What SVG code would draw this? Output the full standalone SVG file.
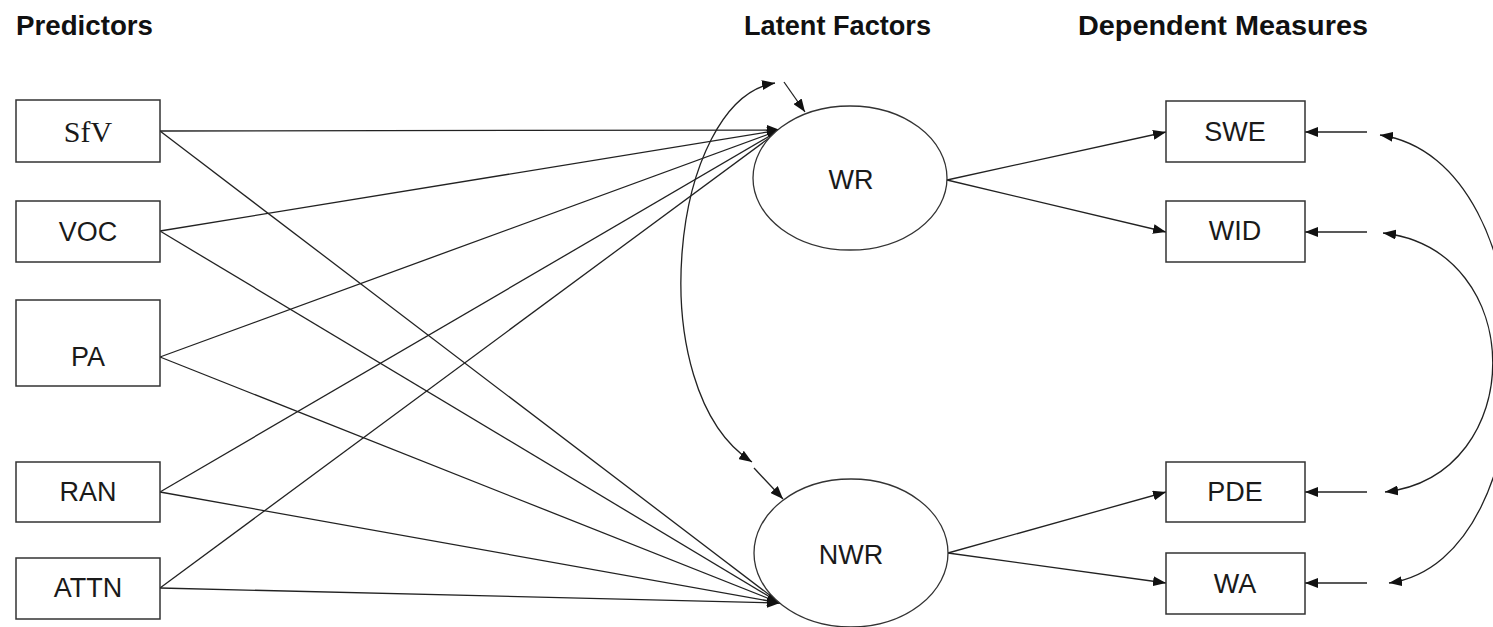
<svg xmlns="http://www.w3.org/2000/svg" width="1493" height="627" viewBox="0 0 1493 627">
<style>
.box{fill:#fff;stroke:#333;stroke-width:1.5}
.ell{fill:#fff;stroke:#333;stroke-width:1.3}
.lbl{font-family:"Liberation Sans",Arial,sans-serif;font-size:27px;fill:#1a1a1a;text-anchor:middle}
.ser{font-family:"Liberation Serif","Times New Roman",serif;font-size:30px;fill:#1a1a1a;text-anchor:middle}
.ttl{font-family:"Liberation Sans",Arial,sans-serif;font-size:27px;font-weight:bold;fill:#111}
.con{fill:none;stroke:#222;stroke-width:1.3}
</style>
<defs>
<marker id="ah" viewBox="0 0 13 10" refX="13" refY="5" markerWidth="13" markerHeight="10" markerUnits="userSpaceOnUse" orient="auto-start-reverse">
<path d="M0,0 L13,5 L0,10 z" fill="#111"/>
</marker>
</defs>
<rect width="1493" height="627" fill="#fff"/>
<g id="titles">
<text class="ttl" x="16" y="35" textLength="137" lengthAdjust="spacingAndGlyphs">Predictors</text>
<text class="ttl" x="744" y="35" textLength="187" lengthAdjust="spacingAndGlyphs">Latent Factors</text>
<text class="ttl" x="1078" y="35" textLength="290" lengthAdjust="spacingAndGlyphs">Dependent Measures</text>
</g>
<g id="connectors">
<line class="con" x1="160" y1="131" x2="780" y2="130" marker-end="url(#ah)"/>
<line class="con" x1="160" y1="231" x2="780" y2="130" marker-end="url(#ah)"/>
<line class="con" x1="160" y1="357" x2="780" y2="130" marker-end="url(#ah)"/>
<line class="con" x1="160" y1="492" x2="780" y2="130" marker-end="url(#ah)"/>
<line class="con" x1="160" y1="588" x2="780" y2="130" marker-end="url(#ah)"/>
<line class="con" x1="160" y1="131" x2="780" y2="603" marker-end="url(#ah)"/>
<line class="con" x1="160" y1="231" x2="780" y2="603" marker-end="url(#ah)"/>
<line class="con" x1="160" y1="357" x2="780" y2="603" marker-end="url(#ah)"/>
<line class="con" x1="160" y1="492" x2="780" y2="603" marker-end="url(#ah)"/>
<line class="con" x1="160" y1="588" x2="780" y2="603" marker-end="url(#ah)"/>
<line class="con" x1="947" y1="180" x2="1166" y2="132" marker-end="url(#ah)"/>
<line class="con" x1="947" y1="180" x2="1166" y2="232" marker-end="url(#ah)"/>
<line class="con" x1="948" y1="553" x2="1166" y2="492" marker-end="url(#ah)"/>
<line class="con" x1="948" y1="553" x2="1166" y2="583" marker-end="url(#ah)"/>
<line class="con" x1="1367" y1="132" x2="1305" y2="132" marker-end="url(#ah)"/>
<line class="con" x1="1367" y1="232" x2="1305" y2="232" marker-end="url(#ah)"/>
<line class="con" x1="1367" y1="492" x2="1305" y2="492" marker-end="url(#ah)"/>
<line class="con" x1="1367" y1="583" x2="1305" y2="583" marker-end="url(#ah)"/>
<line class="con" x1="784" y1="82" x2="805" y2="112" marker-end="url(#ah)"/>
<line class="con" x1="754" y1="468" x2="783" y2="499" marker-end="url(#ah)"/>
<path class="con" d="M775,83 C670,100 640,390 752,462" marker-start="url(#ah)" marker-end="url(#ah)"/>
<path class="con" d="M1383,233 C1529,250 1529,475 1385,492" marker-start="url(#ah)" marker-end="url(#ah)"/>
<path class="con" d="M1380,135 C1553,160 1553,560 1389,583" marker-start="url(#ah)" marker-end="url(#ah)"/>
</g>
<g id="SfV"><rect class="box" x="16" y="100" width="144" height="62"/><text class="ser" x="88" y="142">SfV</text></g>
<g id="VOC"><rect class="box" x="16" y="201" width="144" height="61"/><text class="lbl" x="88" y="241">VOC</text></g>
<g id="PA"><rect class="box" x="16" y="300" width="144" height="86"/><text class="lbl" x="88" y="366">PA</text></g>
<g id="RAN"><rect class="box" x="16" y="462" width="144" height="60"/><text class="lbl" x="88" y="501">RAN</text></g>
<g id="ATTN"><rect class="box" x="16" y="558" width="144" height="61"/><text class="lbl" x="88" y="597">ATTN</text></g>
<g id="WR"><ellipse class="ell" cx="850" cy="178" rx="97" ry="72"/><text class="lbl" x="851" y="189">WR</text></g>
<g id="NWR"><ellipse class="ell" cx="851" cy="553" rx="97" ry="74"/><text class="lbl" x="851" y="564">NWR</text></g>
<g id="SWE"><rect class="box" x="1166" y="101" width="139" height="61"/><text class="lbl" x="1235" y="141">SWE</text></g>
<g id="WID"><rect class="box" x="1166" y="201" width="139" height="61"/><text class="lbl" x="1235" y="240">WID</text></g>
<g id="PDE"><rect class="box" x="1166" y="462" width="139" height="60"/><text class="lbl" x="1235" y="501">PDE</text></g>
<g id="WA"><rect class="box" x="1166" y="553" width="139" height="61"/><text class="lbl" x="1235" y="593">WA</text></g>
</svg>
